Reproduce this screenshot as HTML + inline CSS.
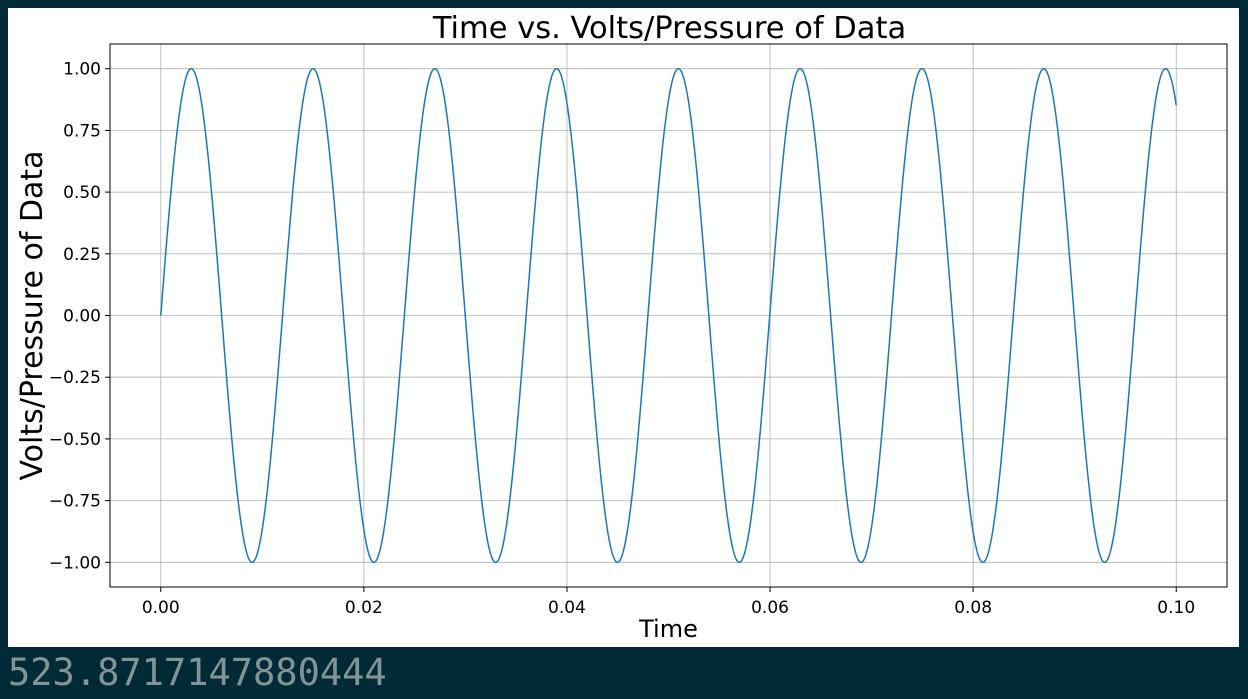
<!DOCTYPE html>
<html><head><meta charset="utf-8"><style>
html,body{margin:0;padding:0;background:#002b36;width:1248px;height:699px;overflow:hidden}
#panel{position:absolute;left:8px;top:8px;width:1231px;height:639px;background:#fff}
#num{position:absolute;left:8px;top:648px;font:37px "DejaVu Sans Mono","Liberation Mono",monospace;color:#839496;line-height:50px}
svg text{font-family:"DejaVu Sans","Liberation Sans",sans-serif;fill:#000}
</style></head><body>
<div id="panel"></div>
<svg id="chart" width="1248" height="699" style="position:absolute;left:0;top:0"></svg>
<div id="num">523.8717147880444</div>
<script>
const xTicks=[0,0.02,0.04,0.06,0.08,0.10];
const xTickLabels=["0.00","0.02","0.04","0.06","0.08","0.10"];
const yTicks=[1,0.75,0.5,0.25,0,-0.25,-0.5,-0.75,-1];
const yTickLabels=["1.00","0.75","0.50","0.25","0.00","\u22120.25","\u22120.50","\u22120.75","\u22121.00"];
const omega=[523.8717147880444];
const amplitude=[1];
const timeRange=[0,0.1];
const sampleCount=[2000];
const svg=document.getElementById('chart');
const NS='http://www.w3.org/2000/svg';
const L=110,R=1227,T=44,B=587;
const xMin=-0.005,xMax=0.105,yMin=-1.1,yMax=1.1;
const xs=v=>L+(v-xMin)/(xMax-xMin)*(R-L);
const ys=v=>B-(v-yMin)/(yMax-yMin)*(B-T);
function mk(t,a){const e=document.createElementNS(NS,t);for(const k in a)e.setAttribute(k,a[k]);svg.appendChild(e);return e;}
xTicks.forEach((v,i)=>{
 const g=mk('line',{x1:xs(v),x2:xs(v),y1:T,y2:B,stroke:'#b0b0b0','stroke-width':0.8});
 
 mk('line',{x1:xs(v),x2:xs(v),y1:B,y2:B+5,stroke:'#000'});
 const t=mk('text',{x:xs(v),y:B+26,'text-anchor':'middle','font-size':17});t.textContent=xTickLabels[i];
 
});
yTicks.forEach((v,i)=>{
 const g=mk('line',{x1:L,x2:R,y1:ys(v),y2:ys(v),stroke:'#b0b0b0','stroke-width':0.8});
 
 mk('line',{x1:L-5,x2:L,y1:ys(v),y2:ys(v),stroke:'#000'});
 const t=mk('text',{x:L-9,y:ys(v)+6,'text-anchor':'end','font-size':17});t.textContent=yTickLabels[i];
 
});
let d='';
for(let i=0;i<=sampleCount[0];i++){
 const t=timeRange[0]+(timeRange[1]-timeRange[0])*i/sampleCount[0];
 const y=amplitude[0]*Math.sin(omega[0]*t);
 d+=(i?'L':'M')+xs(t).toFixed(2)+','+ys(y).toFixed(2);
}
const line=mk('path',{d:d,fill:'none',stroke:'#1f77b4','stroke-width':1.5});

const fr=mk('rect',{x:L,y:T,width:R-L,height:B-T,fill:'none',stroke:'#000','stroke-width':1});

const ti=mk('text',{x:(L+R)/2+1,y:38,'text-anchor':'middle','font-size':30.5});ti.textContent='Time vs. Volts/Pressure of Data';

const xl=mk('text',{x:(L+R)/2,y:637,'text-anchor':'middle','font-size':24});xl.textContent='Time';

const yl=mk('text',{x:0,y:0,'text-anchor':'middle','font-size':30,transform:'translate(42,'+((T+B)/2)+') rotate(-90)'});yl.textContent='Volts/Pressure of Data';

</script>
</body></html>
